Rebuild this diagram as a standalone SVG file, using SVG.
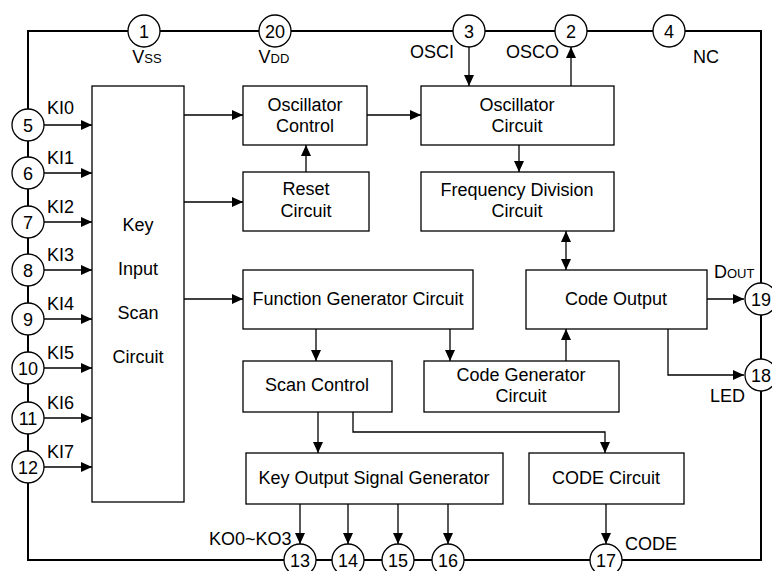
<svg xmlns="http://www.w3.org/2000/svg" width="772" height="571" viewBox="0 0 772 571">
<style>
text{font-family:"Liberation Sans",Arial,sans-serif;font-size:18px;fill:#000}
.c{text-anchor:middle}
.box{fill:#fff;stroke:#000;stroke-width:1.3}
.pin{fill:#fff;stroke:#000;stroke-width:1.3}
.frame{fill:none;stroke:#000;stroke-width:2}
.a{fill:none;stroke:#000;stroke-width:1.3;marker-end:url(#ah)}
.sm{font-size:13px}
</style>
<defs>
<marker id="ah" markerUnits="userSpaceOnUse" markerWidth="11" markerHeight="10" refX="11" refY="5" orient="auto-start-reverse">
<path d="M0,0 L11,5 L0,10 z" fill="#000"/>
</marker>
</defs>
<g id="frame">
<path class="frame" d="M28,31 H761 V560 H28 Z"/>
</g>
<g id="connectors">
<line class="a" x1="44" y1="125" x2="92" y2="125"/>
<line class="a" x1="44" y1="173" x2="92" y2="173"/>
<line class="a" x1="44" y1="222" x2="92" y2="222"/>
<line class="a" x1="44" y1="270" x2="92" y2="270"/>
<line class="a" x1="44" y1="319" x2="92" y2="319"/>
<line class="a" x1="44" y1="368" x2="92" y2="368"/>
<line class="a" x1="44" y1="418" x2="92" y2="418"/>
<line class="a" x1="44" y1="467" x2="92" y2="467"/>
<line class="a" x1="184" y1="115" x2="243" y2="115"/>
<line class="a" x1="184" y1="202" x2="243" y2="202"/>
<line class="a" x1="184" y1="299" x2="243" y2="299"/>
<line class="a" x1="306" y1="172" x2="306" y2="145"/>
<line class="a" x1="367" y1="115" x2="421" y2="115"/>
<line class="a" x1="469" y1="47" x2="469" y2="86"/>
<line class="a" x1="571" y1="86" x2="571" y2="47"/>
<line class="a" x1="519" y1="145" x2="519" y2="172"/>
<line class="a" x1="566" y1="231" x2="566" y2="270" style="marker-start:url(#ah)"/>
<line class="a" x1="316" y1="329" x2="316" y2="361"/>
<line class="a" x1="450" y1="329" x2="450" y2="361"/>
<line class="a" x1="566" y1="361" x2="566" y2="329"/>
<line class="a" x1="707" y1="299" x2="744" y2="299"/>
<polyline class="a" points="668,329 668,375 744,375"/>
<line class="a" x1="318" y1="412" x2="318" y2="453"/>
<polyline class="a" points="353,412 353,432 605,432 605,453"/>
<line class="a" x1="300" y1="504" x2="300" y2="544"/>
<line class="a" x1="348" y1="504" x2="348" y2="544"/>
<line class="a" x1="398" y1="504" x2="398" y2="544"/>
<line class="a" x1="448" y1="504" x2="448" y2="544"/>
<line class="a" x1="606" y1="504" x2="606" y2="544"/>
</g>
<g id="key-input-scan">
<rect class="box" x="92" y="86" width="92" height="416"/>
<text class="c" x="138" y="231">Key</text>
<text class="c" x="138" y="275">Input</text>
<text class="c" x="138" y="319">Scan</text>
<text class="c" x="138" y="363">Circuit</text>
</g>
<g id="osc-control">
<rect class="box" x="243" y="86" width="124" height="59"/>
<text class="c" x="305" y="111">Oscillator</text>
<text class="c" x="305" y="132">Control</text>
</g>
<g id="reset">
<rect class="box" x="243" y="172" width="126" height="59"/>
<text class="c" x="306" y="195">Reset</text>
<text class="c" x="306" y="217">Circuit</text>
</g>
<g id="osc-circuit">
<rect class="box" x="421" y="86" width="193" height="59"/>
<text class="c" x="517" y="111">Oscillator</text>
<text class="c" x="517" y="132">Circuit</text>
</g>
<g id="freq-div">
<rect class="box" x="421" y="172" width="193" height="59"/>
<text class="c" x="517" y="196">Frequency Division</text>
<text class="c" x="517" y="217">Circuit</text>
</g>
<g id="code-output">
<rect class="box" x="526" y="270" width="181" height="59"/>
<text class="c" x="616" y="305">Code Output</text>
</g>
<g id="func-gen">
<rect class="box" x="243" y="270" width="230" height="59"/>
<text class="c" x="358" y="305">Function Generator Circuit</text>
</g>
<g id="scan-control">
<rect class="box" x="243" y="361" width="149" height="51"/>
<text class="c" x="317" y="391">Scan Control</text>
</g>
<g id="code-gen">
<rect class="box" x="424" y="361" width="195" height="51"/>
<text class="c" x="521" y="381">Code Generator</text>
<text class="c" x="521" y="402">Circuit</text>
</g>
<g id="key-output">
<rect class="box" x="246" y="453" width="257" height="51"/>
<text class="c" x="374" y="484">Key Output Signal Generator</text>
</g>
<g id="code-circuit">
<rect class="box" x="529" y="453" width="155" height="51"/>
<text class="c" x="606" y="484">CODE Circuit</text>
</g>
<g id="pins">
<g id="pin1"><circle class="pin" cx="144" cy="31" r="16"/><text class="c" x="144" y="37.5">1</text></g>
<g id="pin20"><circle class="pin" cx="275" cy="31" r="16"/><text class="c" x="275" y="37.5">20</text></g>
<g id="pin3"><circle class="pin" cx="469" cy="31" r="16"/><text class="c" x="469" y="37.5">3</text></g>
<g id="pin2"><circle class="pin" cx="571" cy="31" r="16"/><text class="c" x="571" y="37.5">2</text></g>
<g id="pin4"><circle class="pin" cx="669" cy="31" r="16"/><text class="c" x="669" y="37.5">4</text></g>
<g id="pin5"><circle class="pin" cx="28" cy="125" r="16"/><text class="c" x="28" y="131.5">5</text></g>
<g id="pin6"><circle class="pin" cx="28" cy="173" r="16"/><text class="c" x="28" y="179.5">6</text></g>
<g id="pin7"><circle class="pin" cx="28" cy="222" r="16"/><text class="c" x="28" y="228.5">7</text></g>
<g id="pin8"><circle class="pin" cx="28" cy="270" r="16"/><text class="c" x="28" y="276.5">8</text></g>
<g id="pin9"><circle class="pin" cx="28" cy="319" r="16"/><text class="c" x="28" y="325.5">9</text></g>
<g id="pin10"><circle class="pin" cx="28" cy="368" r="16"/><text class="c" x="28" y="374.5">10</text></g>
<g id="pin11"><circle class="pin" cx="28" cy="418" r="16"/><text class="c" x="28" y="424.5">11</text></g>
<g id="pin12"><circle class="pin" cx="28" cy="467" r="16"/><text class="c" x="28" y="473.5">12</text></g>
<g id="pin19"><circle class="pin" cx="761" cy="299" r="16"/><text class="c" x="761" y="305.5">19</text></g>
<g id="pin18"><circle class="pin" cx="761" cy="375" r="16"/><text class="c" x="761" y="381.5">18</text></g>
<g id="pin13"><circle class="pin" cx="300" cy="560" r="16"/><text class="c" x="300" y="566.5">13</text></g>
<g id="pin14"><circle class="pin" cx="348" cy="560" r="16"/><text class="c" x="348" y="566.5">14</text></g>
<g id="pin15"><circle class="pin" cx="398" cy="560" r="16"/><text class="c" x="398" y="566.5">15</text></g>
<g id="pin16"><circle class="pin" cx="448" cy="560" r="16"/><text class="c" x="448" y="566.5">16</text></g>
<g id="pin17"><circle class="pin" cx="606" cy="560" r="16"/><text class="c" x="606" y="566.5">17</text></g>
</g>
<g id="labels">
<text class="c" x="147" y="63">V<tspan class="sm">SS</tspan></text>
<text class="c" x="274" y="63">V<tspan class="sm">DD</tspan></text>
<text x="410" y="58">OSCI</text>
<text x="506" y="58">OSCO</text>
<text x="693" y="63">NC</text>
<text x="47" y="114">KI0</text>
<text x="47" y="164">KI1</text>
<text x="47" y="213">KI2</text>
<text x="47" y="261">KI3</text>
<text x="47" y="310">KI4</text>
<text x="47" y="359">KI5</text>
<text x="47" y="409">KI6</text>
<text x="47" y="458">KI7</text>
<text x="714" y="278">D<tspan class="sm">OUT</tspan></text>
<text x="710" y="402">LED</text>
<text x="209" y="545">KO0~KO3</text>
<text x="625" y="550">CODE</text>
</g>
</svg>
